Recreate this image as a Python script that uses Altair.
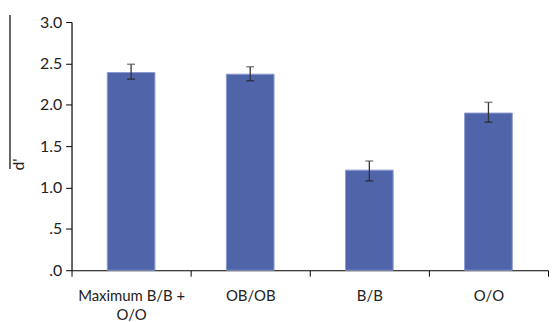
import altair as alt
import pandas as pd

conditions = ["Maximum B/B + O/O", "OB/OB", "B/B", "O/O"]
dprime = [2.39, 2.37, 1.21, 1.90]
err_low = [2.31, 2.29, 1.08, 1.79]
err_high = [2.49, 2.46, 1.32, 2.03]

df = pd.DataFrame({"cond": conditions, "d": dprime, "lo": err_low, "hi": err_high})

FONT = "Lato"
x = alt.X("cond:N", sort=conditions, title=None,
          scale=alt.Scale(paddingInner=0, paddingOuter=0),
          axis=alt.Axis(labelAngle=0, tickBand="extent", tickSize=6, tickColor="black",
                        domainColor="black", labelFont=FONT, labelFontSize=15,
                        labelColor="#222222", labelPadding=20, labelLineHeight=19,
                        labelBaseline="middle",
                        labelExpr="datum.label == 'Maximum B/B + O/O' ? ['Maximum B/B +', 'O/O'] : datum.label"))

y_axis = alt.Axis(values=[0, 0.5, 1, 1.5, 2, 2.5, 3], grid=False, tickSize=6,
                  tickColor="black", domainColor="black", labelFont=FONT,
                  labelFontSize=16, labelColor="#222222", labelPadding=4,
                  labelExpr="datum.value < 1 ? replace(format(datum.value, '.1f'), '0.', '.') : format(datum.value, '.1f')",
                  title="d'", titleFont=FONT, titleFontSize=16, titleFontWeight="normal",
                  titleColor="#222222", titleX=-45, titleY=143, titleAngle=-90)

bars = alt.Chart(df).mark_bar(color="#5064A9", size=48, stroke="#8b9bd0", strokeWidth=1).encode(
    x=x,
    y=alt.Y("d:Q", scale=alt.Scale(domain=[0, 3]), axis=y_axis),
)

err = alt.Chart(df).mark_rule(color="#333333", strokeWidth=1.3).encode(
    x=alt.X("cond:N", sort=conditions), y="lo:Q", y2="hi:Q"
)
cap_lo = alt.Chart(df).mark_tick(color="#222222", size=8, thickness=1.5, orient="horizontal").encode(
    x=alt.X("cond:N", sort=conditions), y="lo:Q"
)
cap_hi = alt.Chart(df).mark_tick(color="#555555", size=8, thickness=1.5, orient="horizontal").encode(
    x=alt.X("cond:N", sort=conditions), y="hi:Q"
)

deco = alt.Chart(df).mark_rule(color="black", strokeWidth=1.2).encode(
    x=alt.value(-62), y=alt.value(-7), y2=alt.value(148)
).transform_filter("datum.cond == 'OB/OB'")

chart = alt.layer(bars, err, cap_lo, cap_hi, deco).properties(
    width=480, height=250,
    padding={"left": 1, "top": 5, "right": 0, "bottom": 0},
).configure_view(stroke=None).configure_axisX(domainWidth=1.2).configure_axisY(domainWidth=1.2)

chart.save("out.html", embed_options={"renderer": "svg", "actions": False})
